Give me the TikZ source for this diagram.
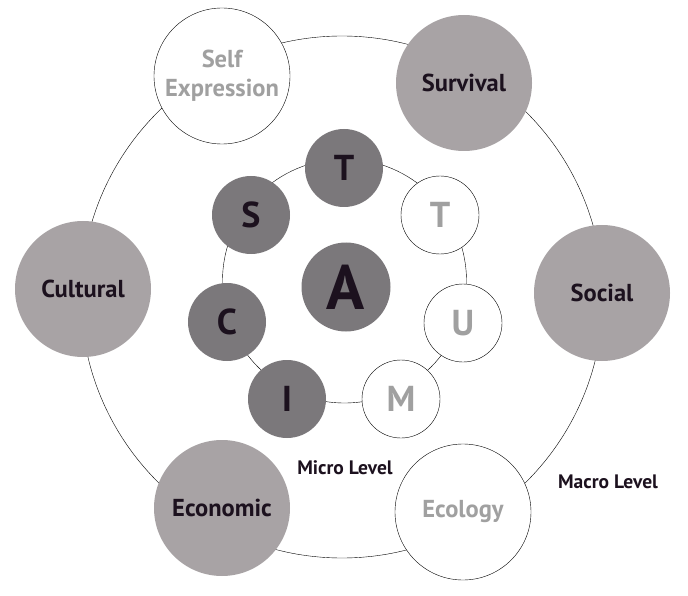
\documentclass[tikz,border=0pt]{standalone}
\usepackage{fontspec}
\setmainfont{PT Sans}
\usepackage{tikz}
\definecolor{ink}{RGB}{28,17,30}
\definecolor{ashgray}{RGB}{168,163,165}
\definecolor{slategray}{RGB}{123,120,123}
\definecolor{paletext}{RGB}{160,160,160}
\tikzset{
  ring/.style={circle,draw=black,thin,minimum size=#1,inner sep=0pt},
  macro/.style={circle,fill=ashgray,minimum size=136pt,inner sep=0pt,
    align=center,text=ink,font=\fontsize{24.5}{29}\selectfont\bfseries},
  macroopen/.style={macro,draw=black,thin,fill=white,text=paletext},
  micro/.style={circle,fill=slategray,minimum size=78pt,inner sep=0pt,
    text=ink,font=\fontsize{36}{36}\selectfont\bfseries},
  microopen/.style={micro,draw=black,thin,fill=white,text=paletext},
  level/.style={font=\fontsize{19.5}{19.5}\selectfont\bfseries,text=ink}
}
\begin{document}
\begin{tikzpicture}[x=1pt,y=-1pt]
  \useasboundingbox (0,0) rectangle (688,596);
  % rings
  \node[ring=522pt] (macroring) at (342,297) {};
  \node[ring=244pt] (microring) at (344.5,281) {};
  % macro level
  \node[macroopen] (selfexp) at (222,76) {Self\\Expression};
  \node[macro] (survival) at (464,83) {Survival};
  \node[macro] (social) at (602,293) {Social};
  \node[macroopen] (ecology) at (463,512) {Ecology};
  \node[macro] (economic) at (222,508) {Economic};
  \node[macro] (cultural) at (83,289) {Cultural};
  % micro level
  \node[micro] (t1) at (344,168) {T};
  \node[microopen] (t2) at (440,215) {T};
  \node[microopen] (u) at (463,323) {U};
  \node[microopen] (m) at (401,399) {M};
  \node[micro] (i) at (287,399) {I};
  \node[micro] (c) at (227,322) {C};
  \node[micro] (s) at (251,215) {S};
  \node[micro,minimum size=89pt,font=\fontsize{63}{63}\selectfont\bfseries] (a) at (346,287) {A};
  % labels
  \node[level] (microlbl) at (345,468) {Micro Level};
  \node[level] (macrolbl) at (608,482) {Macro Level};
\end{tikzpicture}
\end{document}
